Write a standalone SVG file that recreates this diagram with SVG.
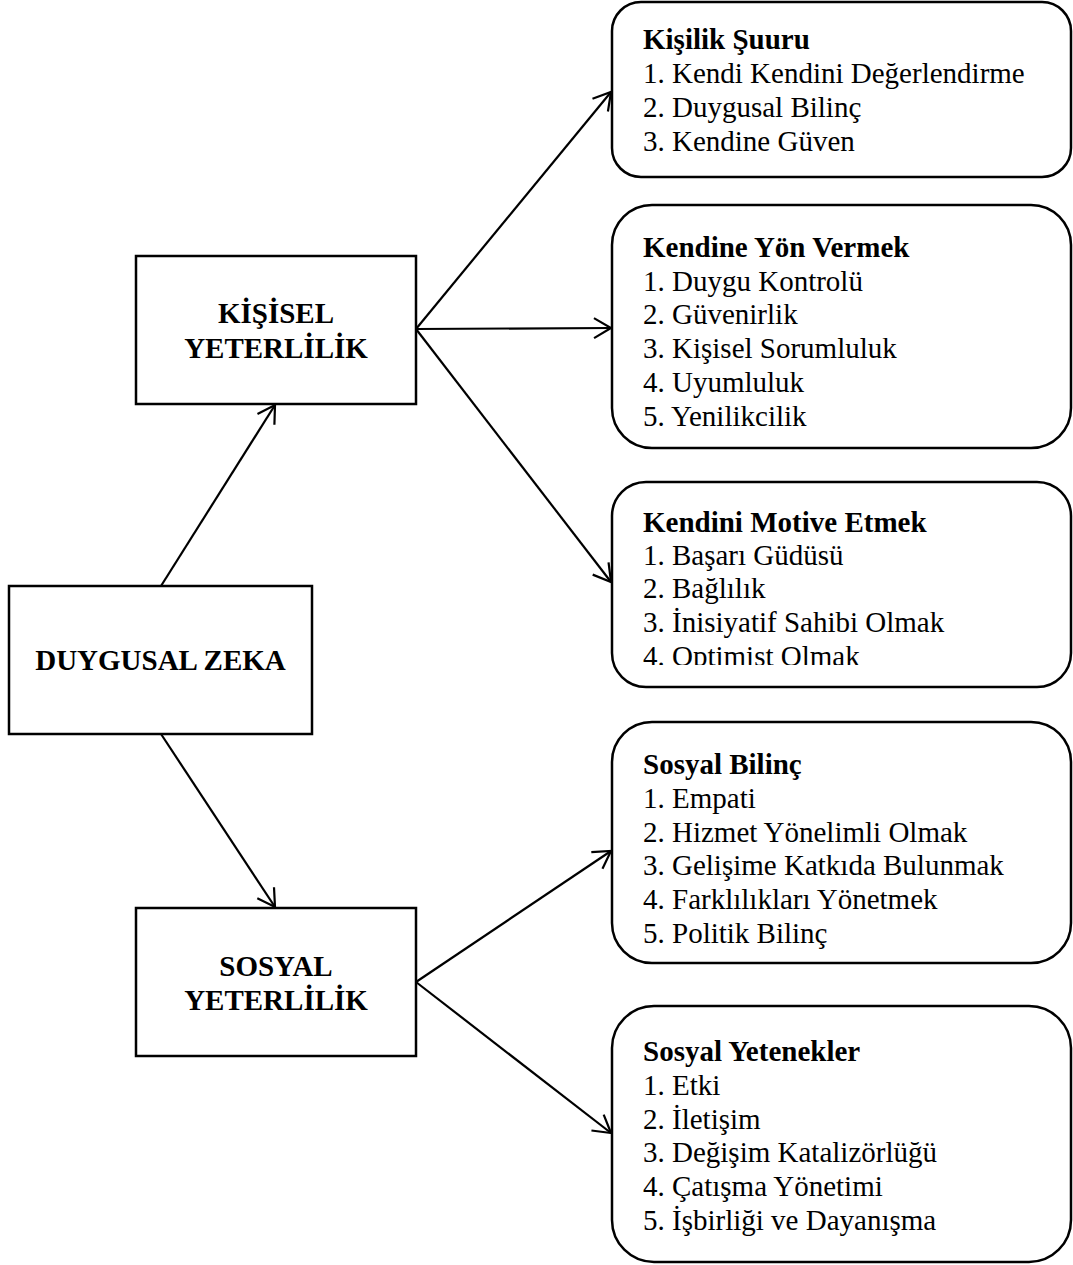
<svg xmlns="http://www.w3.org/2000/svg" width="1073" height="1265" viewBox="0 0 1073 1265">
  <style>
    .box { fill: #fff; stroke: #000; stroke-width: 2.5; }
    .lbl { font-family: "Liberation Serif", "Times New Roman", serif; font-size: 29px; fill: #000; }
    .b { font-weight: bold; }
    .mid { text-anchor: middle; }
    .edge { fill: none; stroke: #000; stroke-width: 2.2; marker-end: url(#arrow); }
  </style>
  <defs>
    <marker id="arrow" markerUnits="userSpaceOnUse" markerWidth="40" markerHeight="40" viewBox="-20 -20 40 40" refX="0" refY="0" orient="auto" overflow="visible">
      <path d="M -17 -10 L 0 0 L -17 10" fill="none" stroke="#000" stroke-width="2.2" stroke-linejoin="miter"/>
    </marker>
    <!-- last line of the motivation box is cut at the text frame edge -->
    <clipPath id="motiveClip">
      <rect x="612" y="482" width="460" height="183"/>
    </clipPath>
  </defs>

  <!-- connectors -->
  <g id="connectors">
    <line class="edge" x1="161" y1="586" x2="275" y2="405"/>
    <line class="edge" x1="161" y1="734" x2="275" y2="907"/>
    <line class="edge" x1="416" y1="329" x2="611" y2="92"/>
    <line class="edge" x1="416" y1="329" x2="611" y2="328"/>
    <line class="edge" x1="416" y1="329" x2="611" y2="582"/>
    <line class="edge" x1="416" y1="982" x2="611" y2="851"/>
    <line class="edge" x1="416" y1="982" x2="611" y2="1133"/>
  </g>

  <!-- root node -->
  <g id="duygusal-zeka">
    <rect class="box" x="9" y="586" width="303" height="148"/>
    <text class="lbl b mid" x="160.5" y="670">DUYGUSAL ZEKA</text>
  </g>

  <!-- competence nodes -->
  <g id="kisisel-yeterlilik">
    <rect class="box" x="136" y="256" width="280" height="148"/>
    <text class="lbl b mid" x="276" y="323">KİŞİSEL</text>
    <text class="lbl b mid" x="276" y="357.5">YETERLİLİK</text>
  </g>

  <g id="sosyal-yeterlilik">
    <rect class="box" x="136" y="908" width="280" height="148"/>
    <text class="lbl b mid" x="276" y="976">SOSYAL</text>
    <text class="lbl b mid" x="276" y="1009.5">YETERLİLİK</text>
  </g>

  <!-- detail nodes -->
  <g id="kisilik-suuru">
    <rect class="box" x="612" y="2" width="459" height="175" rx="29" ry="29"/>
    <text class="lbl b" x="643" y="49">Kişilik Şuuru</text>
    <text class="lbl" x="643" y="83">1. Kendi Kendini Değerlendirme</text>
    <text class="lbl" x="643" y="117">2. Duygusal Bilinç</text>
    <text class="lbl" x="643" y="150.5">3. Kendine Güven</text>
  </g>

  <g id="kendine-yon-vermek">
    <rect class="box" x="612" y="205" width="459" height="243" rx="40" ry="40"/>
    <text class="lbl b" x="643" y="257">Kendine Yön Vermek</text>
    <text class="lbl" x="643" y="290.5">1. Duygu Kontrolü</text>
    <text class="lbl" x="643" y="324">2. Güvenirlik</text>
    <text class="lbl" x="643" y="358">3. Kişisel Sorumluluk</text>
    <text class="lbl" x="643" y="391.5">4. Uyumluluk</text>
    <text class="lbl" x="643" y="425.5">5. Yenilikcilik</text>
  </g>

  <g id="kendini-motive-etmek">
    <rect class="box" x="612" y="482" width="459" height="205" rx="34" ry="34"/>
    <g clip-path="url(#motiveClip)">
      <text class="lbl b" x="643" y="531.5">Kendini Motive Etmek</text>
      <text class="lbl" x="643" y="564.5">1. Başarı Güdüsü</text>
      <text class="lbl" x="643" y="598">2. Bağlılık</text>
      <text class="lbl" x="643" y="632">3. İnisiyatif Sahibi Olmak</text>
      <text class="lbl" x="643" y="666">4. Optimist Olmak</text>
    </g>
  </g>

  <g id="sosyal-bilinc">
    <rect class="box" x="612" y="722" width="459" height="241" rx="40" ry="40"/>
    <text class="lbl b" x="643" y="774">Sosyal Bilinç</text>
    <text class="lbl" x="643" y="808">1. Empati</text>
    <text class="lbl" x="643" y="841.5">2. Hizmet Yönelimli Olmak</text>
    <text class="lbl" x="643" y="875">3. Gelişime Katkıda Bulunmak</text>
    <text class="lbl" x="643" y="909">4. Farklılıkları Yönetmek</text>
    <text class="lbl" x="643" y="942.5">5. Politik Bilinç</text>
  </g>

  <g id="sosyal-yetenekler">
    <rect class="box" x="612" y="1006" width="459" height="256" rx="42" ry="42"/>
    <text class="lbl b" x="643" y="1061">Sosyal Yetenekler</text>
    <text class="lbl" x="643" y="1094.5">1. Etki</text>
    <text class="lbl" x="643" y="1128.5">2. İletişim</text>
    <text class="lbl" x="643" y="1162">3. Değişim Katalizörlüğü</text>
    <text class="lbl" x="643" y="1196">4. Çatışma Yönetimi</text>
    <text class="lbl" x="643" y="1229.5">5. İşbirliği ve Dayanışma</text>
  </g>
</svg>
